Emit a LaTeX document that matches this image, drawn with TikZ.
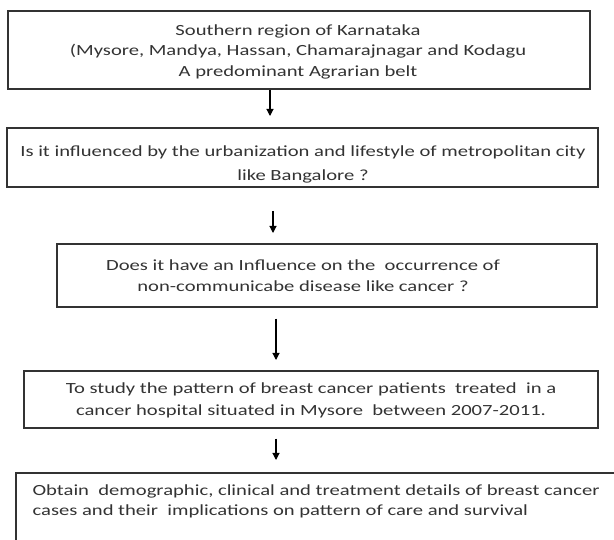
\documentclass[tikz,border=0pt]{standalone}
\usepackage{fontspec}
\newfontfamily\calwide{Carlito}[FakeStretch=1.33]
\usetikzlibrary{arrows.meta}
\definecolor{inkgray}{HTML}{333333}
\definecolor{framegray}{HTML}{333333}

\begin{document}
\begin{tikzpicture}[x=1pt, y=-1pt, line width=1.2pt,
  box/.style={draw=framegray, rectangle, inner sep=0pt},
  txt/.style={text=inkgray, align=center, inner sep=0pt, font=\calwide\fontsize{15.5}{21}\selectfont},
  arr/.style={-{Triangle[length=7pt, width=7pt]}, line width=1.1pt, black}]
  \clip (0,0) rectangle (614,540);
  % frames
  \node[box, minimum width=582, minimum height=78] (b1) at (299,50) {};
  \node[box, minimum width=591, minimum height=59] (b2) at (302.5,157.5) {};
  \node[box, minimum width=540, minimum height=63] (b3) at (327,275.5) {};
  \node[box, minimum width=574, minimum height=57] (b4) at (311,399.5) {};
  \node[box, minimum width=614, minimum height=87] (b5) at (323,516.5) {};
  % texts
  \node[txt, font=\calwide\fontsize{15.5}{20.5}\selectfont] (t1) at (298,51.6)
    {Southern region of Karnataka\\(Mysore, Mandya, Hassan, Chamarajnagar and Kodagu\\A predominant Agrarian belt};
  \node[txt, font=\calwide\fontsize{15.5}{24}\selectfont] (t2) at (303,164)
    {Is it influenced by the urbanization and lifestyle of metropolitan city\\like Bangalore ?};
  \node[txt] (t3) at (303,275.6)
    {Does it have an Influence on the\ \ occurrence of\\non-communicabe disease like cancer ?};
  \node[txt, font=\calwide\fontsize{15.5}{22}\selectfont] (t4) at (311,400)
    {To study the pattern of breast cancer patients\ \ treated\ \ in a\\cancer hospital situated in Mysore\ \ between 2007-2011.};
  \node[txt, align=left, anchor=west, font=\calwide\fontsize{15.5}{20}\selectfont] (t5) at (32,501)
    {Obtain\ \ demographic, clinical and treatment details of breast cancer\\cases and their\ \ implications on pattern of care and survival};
  % arrows
  \coordinate (a1) at (270,116);
  \coordinate (a2) at (273,233);
  \coordinate (a3) at (276,360);
  \coordinate (a4) at (276,460);
  \draw[arr] (a1 |- b1.south) -- (a1);
  \draw[arr] (273,211) -- (a2);
  \draw[arr] (a3 |- b3.south) ++(0,11) -- (a3);
  \draw[arr] (a4 |- b4.south) ++(0,10) -- (a4);
\end{tikzpicture}
\end{document}
